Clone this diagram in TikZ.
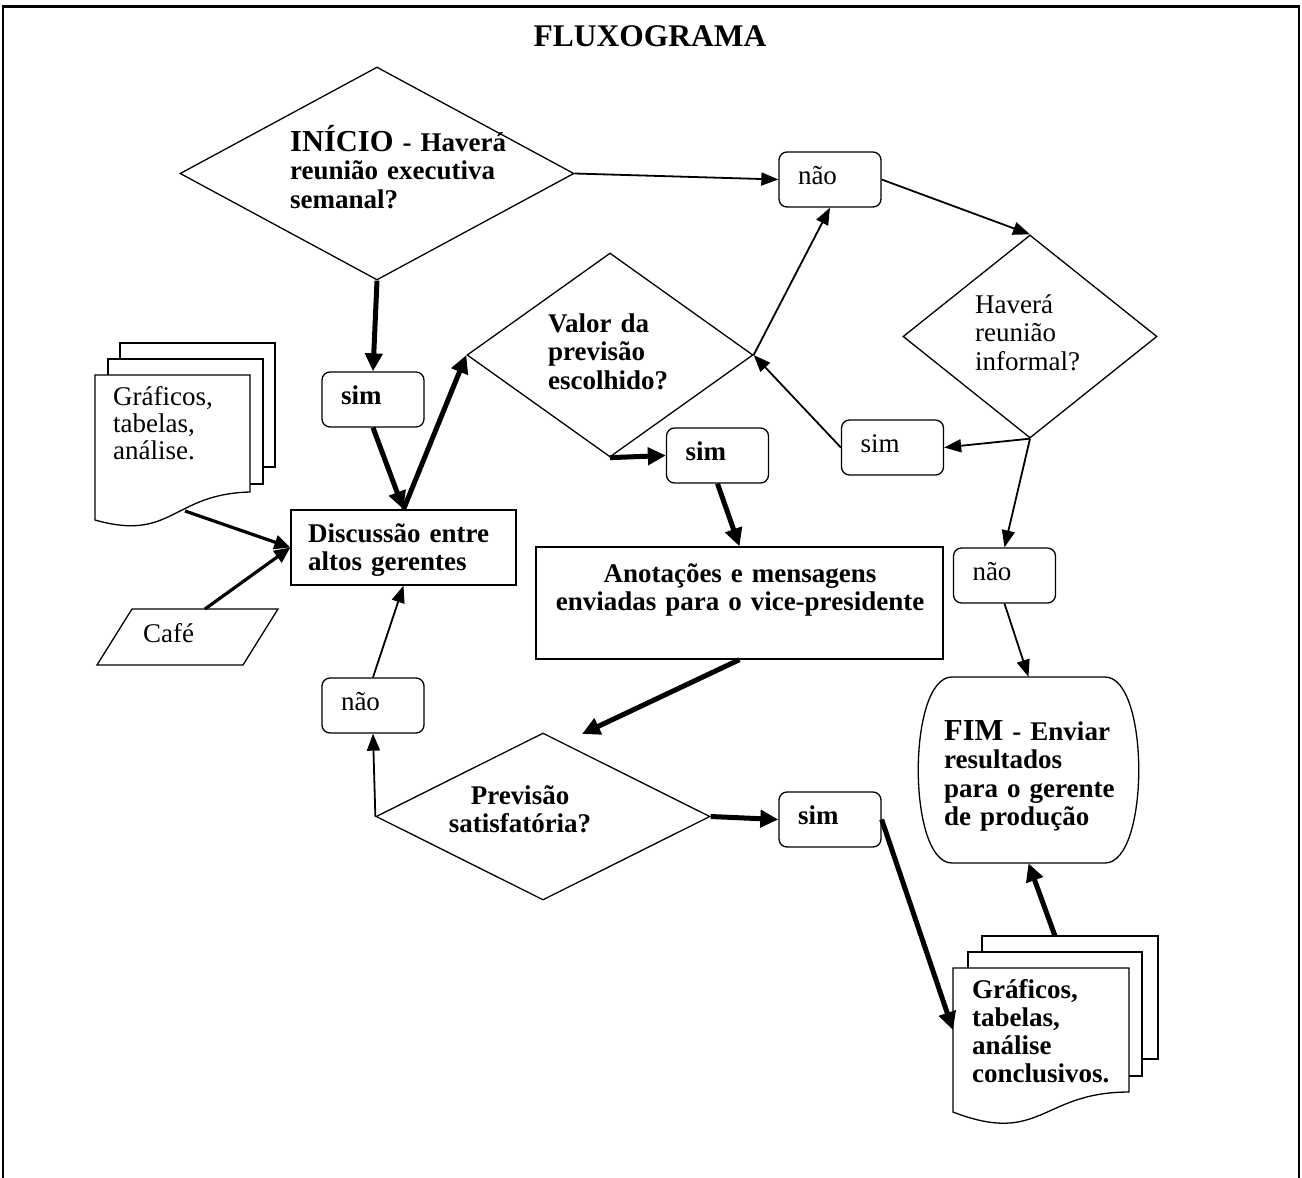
\documentclass[tikz,border=0pt]{standalone}
\usepackage{fontspec}
\setmainfont{Liberation Serif}
\usetikzlibrary{arrows.meta,shapes.geometric}
\newcommand\bodyfnt{\fontsize{27}{28.5}\selectfont}
\newcommand\bigfnt{\fontsize{30.5}{28.5}\selectfont}
\begin{document}
\begin{tikzpicture}[x=1pt,y=-1pt,
  every node/.style={font=\bodyfnt},
  shp/.style={draw, line width=1.3pt},
  rbox/.style={shp, rounded corners=8pt, minimum width=102pt, minimum height=55pt,
    text width=64pt, inner xsep=19pt, inner ysep=0pt, align=left,
    text height=18pt, text depth=8pt},
  sbox/.style={shp, inner sep=0pt},
  dia/.style={shp, diamond, inner sep=0pt},
  txt/.style={inner sep=0pt, anchor=base west, align=left, text width=280pt},
  ctxt/.style={inner sep=0pt, anchor=base, align=center, text width=420pt},
  bf/.style={font=\bodyfnt\bfseries},
  conthin/.style={line width=1.8pt, -{Triangle[length=17pt,width=13pt]}},
  conthick/.style={line width=5pt, -{Triangle[length=18pt,width=17pt]}},
  conmid/.style={line width=3.2pt, -{Triangle[length=16pt,width=14pt]}}
]
\useasboundingbox (0,0) rectangle (1302,1178);
% frame
\draw[line width=1.5pt] (3,1178) -- (3,6) -- (1299,6) -- (1299,1178);
\draw[line width=3pt] (2,6) -- (1300,6);

% title
\node[font=\fontsize{31.5}{33}\selectfont\bfseries] (title) at (650,36) {FLUXOGRAMA};

% diamonds
\node[dia, minimum width=394pt, minimum height=213pt] (d1) at (377,173.5) {};
\node[dia, minimum width=286pt, minimum height=204pt] (d2) at (610,355) {};
\node[dia, minimum width=254pt, minimum height=203pt] (d3) at (1030,336.5) {};
\node[dia, minimum width=334pt, minimum height=167pt] (d4) at (543,816.5) {};

\node[txt, bf] (t1) at (290,151) {{\bigfnt INÍCIO} - Haverá\\reunião executiva\\semanal?};
\node[txt, bf] (t2) at (548,332) {Valor da\\previsão\\escolhido?};
\node[txt] (t3) at (975,313) {Haverá\\reunião\\informal?};
\node[ctxt, bf, text width=220pt] (t4) at (520,804) {Previsão\\satisfatória?};

% rectangles
\node[sbox, minimum width=225pt, minimum height=75pt] (disc) at (403.5,547.5) {};
\node[txt, bf] (tdisc) at (308,542) {Discussão entre\\altos gerentes};
\node[sbox, minimum width=407pt, minimum height=112pt] (anot) at (739.5,603) {};
\node[ctxt, bf] (tanot) at (740,582) {Anotações e mensagens\\enviadas para o vice-presidente};

% rounded boxes
\node[rbox] (nao1) at (830,179.5) {não};
\node[rbox] (simR) at (892.5,447.5) {sim};
\node[rbox, bf] (simM) at (717.5,455.5) {sim};
\node[rbox, bf] (simL) at (373,399.5) {sim};
\node[rbox] (naoL) at (373,705.5) {não};
\node[rbox, bf] (simB) at (830,819.5) {sim};
\node[rbox] (naoR) at (1004.5,575.5) {não};

% FIM terminal
\node[minimum width=223pt, minimum height=186pt, inner sep=0pt] (fim) at (1028.5,770) {};
\draw[shp] (952,677) -- (1105,677) .. controls (1150,677) and (1150,863) .. (1105,863)
  -- (952,863) .. controls (907,863) and (907,677) .. (952,677);
\node[txt, bf] (tfim) at (944,740) {{\bigfnt FIM} - Enviar\\resultados\\para o gerente\\de produção};

% left document stack
\draw[shp, fill=white] (120,343) rectangle (275,467);
\draw[shp, fill=white] (108,359) rectangle (263,484);
\draw[shp, fill=white] (95,375) -- (250,375) -- (250,492)
  .. controls (172,494) and (172,542) .. (95,520) -- cycle;
\node[txt, font=\fontsize{27}{27}\selectfont] (tdocL) at (113,405) {Gráficos,\\tabelas,\\análise.};

% right document stack
\draw[shp, fill=white] (982,936) rectangle (1158,1059);
\draw[shp, fill=white] (968,952) rectangle (1142,1076);
\draw[shp, fill=white] (953,968) -- (1129,968) -- (1129,1092)
  .. controls (1041,1092) and (1041,1146) .. (953,1112) -- cycle;
\node[txt, font=\fontsize{27}{28}\selectfont\bfseries] (tdocR) at (972,998) {Gráficos,\\tabelas,\\análise\\conclusivos.};

% cafe
\draw[shp] (132,609) -- (278,609) -- (243,665) -- (97,665) -- cycle;
\node[txt] (tcafe) at (143,642) {Café};

% connector end points on drawn shapes
\coordinate (docLout) at (185,511);
\coordinate (cafeout) at (205,609);
\coordinate (d4in) at (582,734);
\coordinate (docRin) at (953,1030);
\coordinate (docRout) at (1055,936);

% connectors
\draw[conthin] (d1.east) -- (nao1.west);
\draw[conthin] (nao1.east) -- (d3.north);
\draw[conthin] (d3.south) -- (simR.east);
\draw[conthin] (simR.west) -- (d2.east);
\draw[conthin] (d2.east) -- (nao1.south);
\draw[conthick] (d1.south) -- (simL.north);
\draw[conthick] (simL.south) -- (disc.north);
\draw[conthick] (disc.north) -- (d2.west);
\draw[conthick] (d2.south) -- (simM.west);
\draw[conthick] (simM.south) -- (anot.north);
\draw[conthick] (anot.south) -- (d4in);
\draw[conthin] (d4.west) -- (naoL.south);
\draw[conthin] (naoL.north) -- (disc.south);
\draw[conthick] (d4.east) -- (simB.west);
\draw[conthick] (simB.east) -- (docRin);
\draw[conthick] (docRout) -- (fim.south);
\draw[conthin] (d3.south) -- (naoR.north);
\draw[conthin] (naoR.south) -- (fim.north);
\draw[conmid] (docLout) -- (disc.west);
\draw[conmid] (cafeout) -- (disc.west);
\end{tikzpicture}
\end{document}
